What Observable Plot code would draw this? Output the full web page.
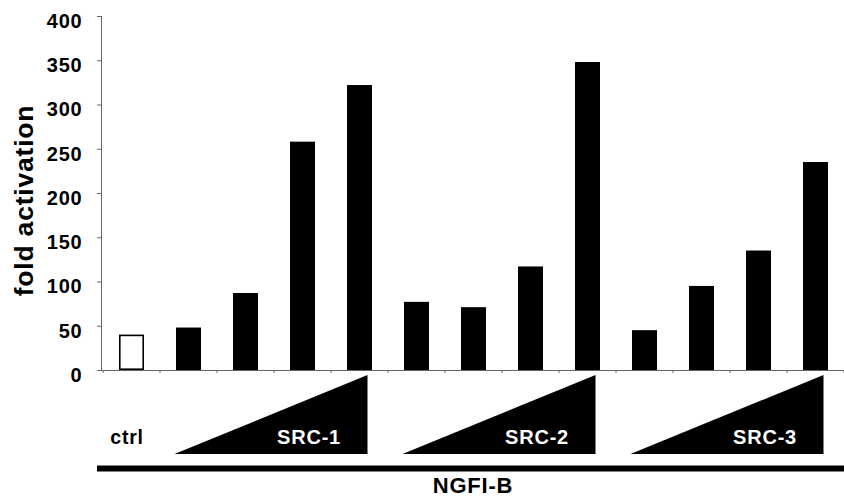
<!DOCTYPE html>
<html>
<head>
<meta charset="utf-8">
<script src="https://cdn.jsdelivr.net/npm/d3@7"></script>
<script src="https://cdn.jsdelivr.net/npm/@observablehq/plot@0.6"></script>
<style>
  html, body { margin: 0; padding: 0; background: #fff; }
  #chart svg { display: block; font-family: "Liberation Sans", Arial, Helvetica, sans-serif; }
  #chart svg text { letter-spacing: 0.8px; }
</style>
</head>
<body>
<div id="chart"></div>
<script>
// ---- data ----
const ctrlLabel = "ctrl";
const ctrlValue = [40];
const groups = ["SRC-1", "SRC-2", "SRC-3"];
const src1 = [48, 87, 258, 322];
const src2 = [77, 71, 117, 348];
const src3 = [45, 95, 135, 235];
const yTicks = [0, 50, 100, 150, 200, 250, 300, 350, 400];
const yLabel = "fold activation";
const baseLabel = "NGFI-B";

// ---- table built from the arrays ----
const seriesByGroup = [src1, src2, src3];
const rows = [
  {cat: ctrlLabel, group: ctrlLabel, dose: 0, value: ctrlValue[0]},
  ...groups.flatMap((g, i) => seriesByGroup[i].map((v, j) => ({cat: `${g} ${j + 1}`, group: g, dose: j + 1, value: v})))
];
const categories = rows.map(d => d.cat);
const padInner = 0.56;

// wedges (increasing-dose triangles) and x boundary ticks, drawn with the plot's scales
function wedges(index, scales) {
  const sx = scales.x, sy = scales.y;
  const step = sx(categories[1]) - sx(categories[0]);
  const bw = typeof sx.bandwidth === "function" ? sx.bandwidth() : step * (1 - padInner);
  const gap = step - bw;
  const y0 = sy(0);
  const g = d3.create("svg:g");
  const bounds = categories.map(c => sx(c) - gap / 2);
  bounds.push(sx(categories[categories.length - 1]) + bw + gap / 2);
  for (const bx of bounds) {
    g.append("line").attr("x1", bx).attr("x2", bx).attr("y1", y0).attr("y2", y0 + 3)
      .attr("stroke", "#666").attr("stroke-width", 1);
  }
  for (const grp of groups) {
    const cats = rows.filter(d => d.group === grp).map(d => d.cat);
    const l = sx(cats[0]) - 1.5;
    const r = sx(cats[cats.length - 1]) + bw - 4.5;
    const top = y0 + 5, bot = y0 + 84;
    g.append("polygon").attr("points", `${l},${bot} ${r},${top} ${r},${bot}`).attr("fill", "black");
  }
  return g.node();
}

const chart = Plot.plot({
  width: 844,
  height: 497,
  marginLeft: 101,
  marginRight: 0,
  marginTop: 16,
  marginBottom: 127,
  style: {fontFamily: "Liberation Sans, Arial, Helvetica, sans-serif", color: "black"},
  x: {type: "band", domain: categories, range: [101, 847], paddingInner: padInner, paddingOuter: padInner / 2, axis: null},
  y: {domain: [0, 400], axis: null},
  marks: [
    Plot.frame({anchor: "left", stroke: "#666", strokeWidth: 1}),
    Plot.axisY({ticks: yTicks, tickSize: 4, tickFormat: () => "", stroke: "#666", label: null}),
    Plot.text(yTicks, {y: d => d, text: d => String(d), frameAnchor: "left", textAnchor: "end", dx: -19, dy: 5, fill: "black", fontSize: 20, fontWeight: "bold", lineAnchor: "middle"}),
    Plot.barY(rows.filter(d => d.group === ctrlLabel), {x: "cat", y: "value", fill: "white", stroke: "black", strokeWidth: 1.6, inset: 0.8}),
    Plot.barY(rows.filter(d => d.group !== ctrlLabel), {x: "cat", y: "value", fill: "black"}),
    Plot.ruleY([0], {stroke: "#666", strokeWidth: 1}),
    wedges,
    Plot.text(groups, {x: d => `${d} 3`, text: d => d, frameAnchor: "bottom", dy: 67.5, dx: 6, fill: "white", fontSize: 20, fontWeight: "bold", lineAnchor: "middle"}),
    Plot.text([ctrlLabel], {x: d => d, text: d => d, frameAnchor: "bottom", dy: 67, dx: -5, fill: "black", fontSize: 19.5, fontWeight: "bold", lineAnchor: "middle"}),
    Plot.ruleY([0], {dy: 98, stroke: "black", strokeWidth: 6, insetLeft: -4}),
    Plot.text([baseLabel], {text: d => d, frameAnchor: "bottom", dy: 115, fill: "black", fontSize: 22, fontWeight: "bold", lineAnchor: "middle", textAnchor: "middle"}),
    Plot.text([yLabel], {text: d => d, frameAnchor: "left", textAnchor: "middle", dx: -77, dy: 7, rotate: -90, fill: "black", fontSize: 26.5, fontWeight: "bold", lineAnchor: "middle"})
  ]
});
document.getElementById("chart").appendChild(chart);
</script>
</body>
</html>
